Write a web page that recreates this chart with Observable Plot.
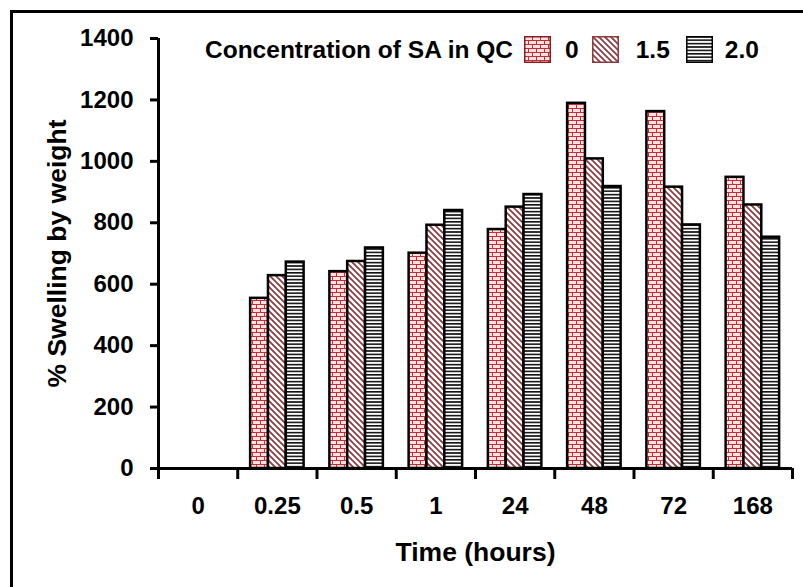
<!DOCTYPE html>
<html><head><meta charset="utf-8">
<script src="https://cdn.jsdelivr.net/npm/d3@7"></script>
<script src="https://cdn.jsdelivr.net/npm/@observablehq/plot@0.6"></script>
<style>
html,body{margin:0;padding:0;background:#fff;overflow:hidden;}
#wrap{position:relative;width:803px;height:587px;overflow:hidden;font-family:"Liberation Sans",Arial,sans-serif;font-weight:bold;}
#chart{position:absolute;left:0;top:0;}
#border{position:absolute;left:10px;top:10px;width:1000px;height:1000px;border:3px solid #000;pointer-events:none;}
#legend{position:absolute;left:205px;top:36px;display:flex;align-items:center;font-size:24.5px;line-height:27px;color:#000;white-space:nowrap;}
#legend svg{display:block;}
</style></head>
<body><div id="wrap"><div id="chart"></div><div id="border"></div><div id="legend"></div></div>
<script>
// ---- data ----
const times = ["0", "0.25", "0.5", "1", "24", "48", "72", "168"];
const seriesNames = ["0", "1.5", "2.0"];
const conc0  = [0, 554, 641, 701, 778, 1189, 1162, 948];
const conc15 = [0, 628, 674, 792, 851, 1008, 916, 858];
const conc20 = [0, 672, 718, 840, 892, 918, 793, 753];
const yTicks = [0, 200, 400, 600, 800, 1000, 1200, 1400];
const xTitle = "Time (hours)";
const yTitle = "% Swelling by weight";
const legendTitle = "Concentration of SA in QC";

const patternIds = ["pat-brick", "pat-diag", "pat-hlines"];
const rows = [];
[conc0, conc15, conc20].forEach((vals, s) =>
  vals.forEach((v, i) => rows.push({time: times[i], i, s, series: seriesNames[s], value: v})));

// grouped-bar layout within each time band
const groupFrac = 0.675, barFrac = groupFrac / 3, startFrac = (1 - groupFrac) / 2;
const font = '"Liberation Sans", Arial, sans-serif';

const chart = Plot.plot({
  width: 803, height: 587,
  marginLeft: 158, marginRight: 11, marginTop: 38, marginBottom: 119,
  style: {fontFamily: font, fontWeight: "bold", color: "#000", background: "#fff", overflow: "visible"},
  x: {type: "linear", domain: [0, times.length]},
  y: {domain: [0, 1400]},
  color: {type: "ordinal", domain: seriesNames, range: patternIds.map(id => `url(#${id})`)},
  marks: [
    Plot.rectY(rows, {
      x1: d => d.i + startFrac + d.s * barFrac,
      x2: d => d.i + startFrac + (d.s + 1) * barFrac,
      y: "value", fill: "series", stroke: "#000", strokeWidth: 2.5
    }),
    Plot.ruleX([0], {stroke: "#000", strokeWidth: 3}),
    Plot.ruleY([0], {stroke: "#000", strokeWidth: 3}),
    Plot.axisY({ticks: yTicks, tickSize: 8, tickPadding: 17, fontSize: 24, strokeWidth: 3,
      label: null, tickFormat: d => String(d)}),
    Plot.axisX({ticks: d3.range(times.length + 1), tickSize: 11, strokeWidth: 3,
      label: null, tickFormat: () => ""}),
    Plot.axisX({ticks: times.map((t, i) => i + 0.5), tickSize: 0, tickPadding: 28, fontSize: 24,
      label: null, tickFormat: v => times[Math.floor(v)]}),
    Plot.text([yTitle], {text: d => d, frameAnchor: "left", textAnchor: "middle", lineAnchor: "middle",
      rotate: -90, dx: -101, fontSize: 26.5}),
    Plot.text([xTitle], {text: d => d, frameAnchor: "bottom", textAnchor: "middle", lineAnchor: "middle",
      dy: 84, fontSize: 26.5})
  ]
});
document.getElementById("chart").appendChild(chart);

// ---- fill patterns ----
function addPatterns(svgSel) {
  const defs = svgSel.insert("defs", ":first-child");
  const b = defs.append("pattern").attr("id", patternIds[0]).attr("patternUnits", "userSpaceOnUse")
    .attr("width", 8).attr("height", 8);
  b.append("rect").attr("width", 8).attr("height", 8).attr("fill", "#fbe4e0");
  b.append("path").attr("d", "M0,0.5H8M0,4.5H8M0.5,0.5V4.5M4.5,4.5V8.5")
    .attr("stroke", "#cc2a3a").attr("stroke-width", 1).attr("fill", "none");
  const g = defs.append("pattern").attr("id", patternIds[1]).attr("patternUnits", "userSpaceOnUse")
    .attr("width", 6).attr("height", 6);
  g.append("rect").attr("width", 6).attr("height", 6).attr("fill", "#fff");
  g.append("path").attr("d", "M-1,-1L7,7M-1,5L1,7M5,-1L7,1")
    .attr("stroke", "#8c3a3e").attr("stroke-width", 1.7).attr("fill", "none");
  const h = defs.append("pattern").attr("id", patternIds[2]).attr("patternUnits", "userSpaceOnUse")
    .attr("width", 4).attr("height", 3.4);
  h.append("rect").attr("width", 4).attr("height", 3.4).attr("fill", "#fff");
  h.append("path").attr("d", "M0,0.8H4").attr("stroke", "#000").attr("stroke-width", 1.5);
}
addPatterns(d3.select(chart));

// ---- legend ----
const legend = d3.select("#legend");
legend.append("span").text(legendTitle).style("margin-right", "11px");
const swatchStroke = ["#8b1c1c", "#8c3a3e", "#000"];
const swatchMargins = ["0 14px 0 0", "0 17px 0 13px", "0 12px 0 16px"];
seriesNames.forEach((name, k) => {
  const sw = legend.append("svg").attr("width", 27).attr("height", 27)
    .style("margin", swatchMargins[k]);
  sw.append("rect").attr("x", 0.75).attr("y", 0.75).attr("width", 25.5).attr("height", 25.5)
    .attr("fill", `url(#${patternIds[k]})`).attr("stroke", swatchStroke[k]).attr("stroke-width", 1.5);
  legend.append("span").text(name);
});
</script>
</body></html>
